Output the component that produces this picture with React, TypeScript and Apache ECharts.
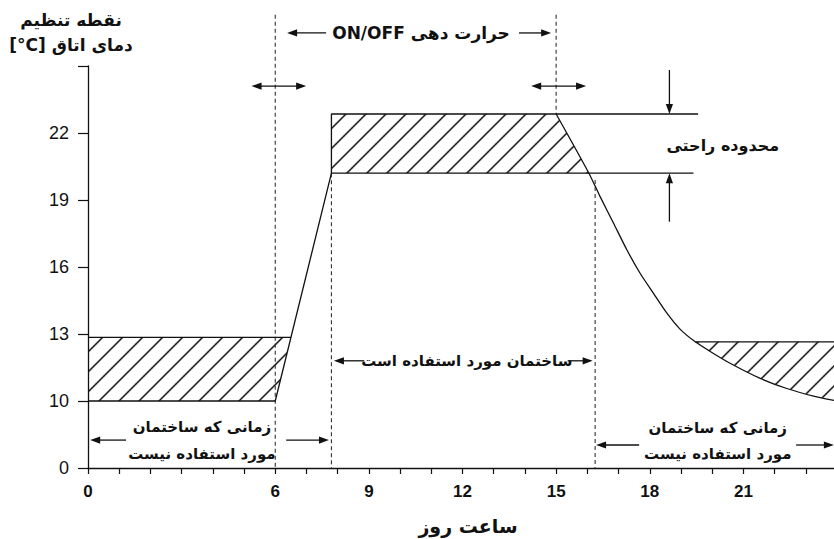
import React, { useEffect, useRef } from "react";
import * as echarts from "echarts";

// ---- data (hours of day, °C setpoints) ----
const xLabelTicks = [0, 6, 9, 12, 15, 18, 21];
const yLabelTicks = [10, 13, 16, 19, 22];
const yBreakValue = 7; // axis origin drawn as "0" (broken axis)

const lowerSetpoint: number[][] = [[0, 10], [6, 10], [7.8, 20.2], [19.4, 20.2]];
const upperSetpoint: number[][] = [[7.8, 20.2], [7.8, 22.85], [19.55, 22.85]];
const leftBandTop: number[][] = [[0, 12.85], [6.5, 12.85]];
const rightBandTop: number[][] = [[19.46, 12.65], [24, 12.65]];
const coolingCurve: number[][] = [
  [15, 22.85], [16.05, 20.2], [16.41, 19.15], [16.84, 17.96], [17.27, 16.76],
  [17.69, 15.72], [18.12, 14.82], [18.55, 13.93], [18.97, 13.22], [19.46, 12.65],
  [20.04, 12.13], [20.68, 11.61], [21.54, 11.01], [22.39, 10.56], [23.25, 10.22],
  [24, 10.0],
];
const dash6: number[][] = [[6, 27.3], [6, 7]];
const dash15: number[][] = [[15, 27.3], [15, 22.85]];
const dash78: number[][] = [[7.8, 20.2], [7.8, 7]];
const dash163: number[][] = [[16.25, 19.9], [16.25, 7]];

const leftHatch: number[][] = [[0, 10], [6, 10], [6.5, 12.85], [0, 12.85]];
const topHatch: number[][] = [[7.8, 20.2], [16.05, 20.2], [15, 22.85], [7.8, 22.85]];
const rightHatch: number[][] = [
  ...coolingCurve.filter((p) => p[0] >= 19.46),
  [24, 12.65],
];

// annotation texts
const txtOnOff = "ON/OFF حرارت دهی";
const txtComfort = "محدوده راحتی";
const txtInUse = "ساختمان مورد استفاده است";
const txtNotUse1 = "زمانی که ساختمان";
const txtNotUse2 = "مورد استفاده نیست";
const yName = "نقطه تنظیم\n[°C] دمای اتاق";
const xName = "ساعت روز";

const FA = "'DejaVu Sans', sans-serif";
const NUM = "'Liberation Sans Narrow', 'Liberation Sans', Arial, sans-serif";
const INK = "#111";

function makeHatch() {
  const size = 20;
  const s = 3;
  const c = document.createElement("canvas");
  c.width = size * s;
  c.height = size * s;
  const ctx = c.getContext("2d")!;
  ctx.scale(s, s);
  ctx.strokeStyle = INK;
  ctx.lineWidth = 1.5;
  ctx.beginPath();
  ctx.moveTo(-2, size + 2);
  ctx.lineTo(size + 2, -2);
  ctx.moveTo(-2, 2);
  ctx.lineTo(2, -2);
  ctx.moveTo(size - 2, size + 2);
  ctx.lineTo(size + 2, size - 2);
  ctx.stroke();
  return { image: c, repeat: "repeat", imageWidth: size, imageHeight: size };
}

export default function App() {
  const ref = useRef<HTMLDivElement>(null);
  useEffect(() => {
    document.body.style.margin = "0";
    const chart = echarts.init(ref.current!, null, { renderer: "svg" });
    const hatch = makeHatch();

    const solid = (name: string, data: number[][], smooth: any = false) => ({
      type: "line",
      name,
      data,
      smooth,
      symbol: "none",
      clip: false,
      silent: true,
      lineStyle: { color: INK, width: 1.3 },
      z: 3,
    });
    const dashed = (name: string, data: number[][]) => ({
      type: "line",
      name,
      data,
      symbol: "none",
      clip: false,
      silent: true,
      lineStyle: { color: "#333", width: 1.1, type: [4, 3] },
      z: 2,
    });
    const hatchSeries = (name: string, poly: number[][]) => ({
      type: "custom",
      name,
      data: poly,
      encode: { x: 0, y: 1 },
      silent: true,
      z: 1,
      renderItem: (params: any, api: any) => {
        if (params.dataIndex !== 0) return null;
        const pts = poly.map((p) => api.coord(p));
        return {
          type: "polygon",
          shape: { points: pts },
          style: { fill: hatch, stroke: null },
        };
      },
    });

    chart.setOption({
      animation: false,
      backgroundColor: "#fff",
      grid: { left: 88, top: 66, width: 749, height: 402, outerBoundsMode: "none" },
      xAxis: {
        type: "value",
        min: 0,
        max: 24,
        interval: 1,
        splitLine: { show: false },
        axisLine: { lineStyle: { color: INK, width: 1.3 } },
        axisTick: { length: 6, lineStyle: { color: INK, width: 1.2 } },
        axisLabel: {
          margin: 15,
          color: INK,
          fontFamily: NUM,
          fontWeight: "bold",
          fontSize: 17,
          showMaxLabel: true,
          formatter: (v: number) => (xLabelTicks.includes(v) ? String(v) : ""),
        },
        name: xName,
        nameLocation: "middle",
        nameGap: 48,
        nameTextStyle: {
          color: INK,
          fontFamily: FA,
          fontWeight: "bold",
          fontSize: 19,
          verticalAlign: "top",
          padding: [0, 0, 0, 11],
        },
      },
      yAxis: {
        type: "value",
        min: yBreakValue,
        max: 25,
        interval: 3,
        splitLine: { show: false },
        axisLine: { lineStyle: { color: INK, width: 1.3 } },
        axisTick: { length: 10, lineStyle: { color: INK, width: 1.2 } },
        axisLabel: {
          margin: 19,
          color: INK,
          fontFamily: "'Liberation Sans', Arial, sans-serif",
          fontSize: 18,
          formatter: (v: number) =>
            v === yBreakValue ? "0" : yLabelTicks.includes(v) ? String(v) : "",
        },
        name: yName,
        nameLocation: "end",
        nameGap: 9,
        nameTextStyle: {
          color: INK,
          fontFamily: FA,
          fontWeight: "bold",
          fontSize: 17,
          lineHeight: 25,
          align: "center",
          verticalAlign: "bottom",
          padding: [0, 34, 0, 0],
        },
      },
      series: [
        hatchSeries("leftHatch", leftHatch),
        hatchSeries("topHatch", topHatch),
        hatchSeries("rightHatch", rightHatch),
        solid("lower", lowerSetpoint),
        solid("upper", upperSetpoint),
        solid("leftBand", leftBandTop),
        solid("rightBand", rightBandTop),
        solid("cooling", coolingCurve, 0.25),
        dashed("d6", dash6),
        dashed("d15", dash15),
        dashed("d78", dash78),
        dashed("d163", dash163),
      ],
    });

    const px = (p: number[]) => chart.convertToPixel({ gridIndex: 0 }, p) as number[];
    const els: any[] = [];
    const arrow = (a: number[], b: number[], both: boolean) => {
      const pa = px(a);
      const pb = px(b);
      const dx = pb[0] - pa[0];
      const dy = pb[1] - pa[1];
      const L = Math.hypot(dx, dy);
      const ux = dx / L, uy = dy / L;
      const nx = -uy, ny = ux;
      const hl = 10, hw = 3.6;
      const head = (t: number[], sx: number, sy: number) => ({
        type: "polygon",
        silent: true,
        z: 10,
        shape: {
          points: [
            [t[0], t[1]],
            [t[0] - sx * hl + nx * hw, t[1] - sy * hl + ny * hw],
            [t[0] - sx * hl - nx * hw, t[1] - sy * hl - ny * hw],
          ],
        },
        style: { fill: INK },
      });
      const start = both ? [pa[0] + ux * hl * 0.7, pa[1] + uy * hl * 0.7] : pa;
      const end = [pb[0] - ux * hl * 0.7, pb[1] - uy * hl * 0.7];
      els.push({
        type: "line",
        silent: true,
        z: 10,
        shape: { x1: start[0], y1: start[1], x2: end[0], y2: end[1] },
        style: { stroke: INK, lineWidth: 1.3 },
      });
      els.push(head(pb, ux, uy));
      if (both) els.push(head(pa, -ux, -uy));
    };
    const text = (t: string, p: number[], size: number) => {
      const q = px(p);
      els.push({
        type: "text",
        silent: true,
        z: 10,
        x: q[0],
        y: q[1],
        style: {
          text: t,
          fill: INK,
          fontFamily: FA,
          fontWeight: "bold",
          fontSize: size,
          align: "center",
          verticalAlign: "middle",
          textAlign: "center",
          textVerticalAlign: "middle",
        },
      });
    };

    // ON/OFF heating span
    arrow([7.63, 26.48], [6.38, 26.48], false);
    arrow([13.81, 26.48], [14.84, 26.48], false);
    text(txtOnOff, [10.67, 26.48], 17);
    // switching tolerance arrows
    arrow([5.24, 24.1], [6.99, 24.1], true);
    arrow([14.2, 24.1], [15.96, 24.1], true);
    // comfort range
    arrow([18.63, 24.82], [18.63, 22.85], false);
    arrow([18.63, 18.03], [18.63, 20.2], false);
    text(txtComfort, [20.34, 21.42], 16);
    // building in use
    arrow([8.85, 11.8], [7.88, 11.8], false);
    arrow([15.37, 11.8], [16.17, 11.8], false);
    text(txtInUse, [12.14, 11.8], 15);
    // not in use (left)
    arrow([1.22, 8.25], [0.07, 8.25], false);
    arrow([6.35, 8.25], [7.72, 8.25], false);
    text(txtNotUse1, [3.65, 8.85], 15);
    text(txtNotUse2, [3.65, 7.63], 15);
    // not in use (right)
    arrow([17.66, 8.03], [16.28, 8.03], false);
    arrow([22.69, 8.03], [23.9, 8.03], false);
    text(txtNotUse1, [20.18, 8.79], 15);
    text(txtNotUse2, [20.18, 7.63], 15);

    chart.setOption({ graphic: els });

    return () => chart.dispose();
  }, []);
  return <div ref={ref} style={{ width: 834, height: 539 }} />;
}
